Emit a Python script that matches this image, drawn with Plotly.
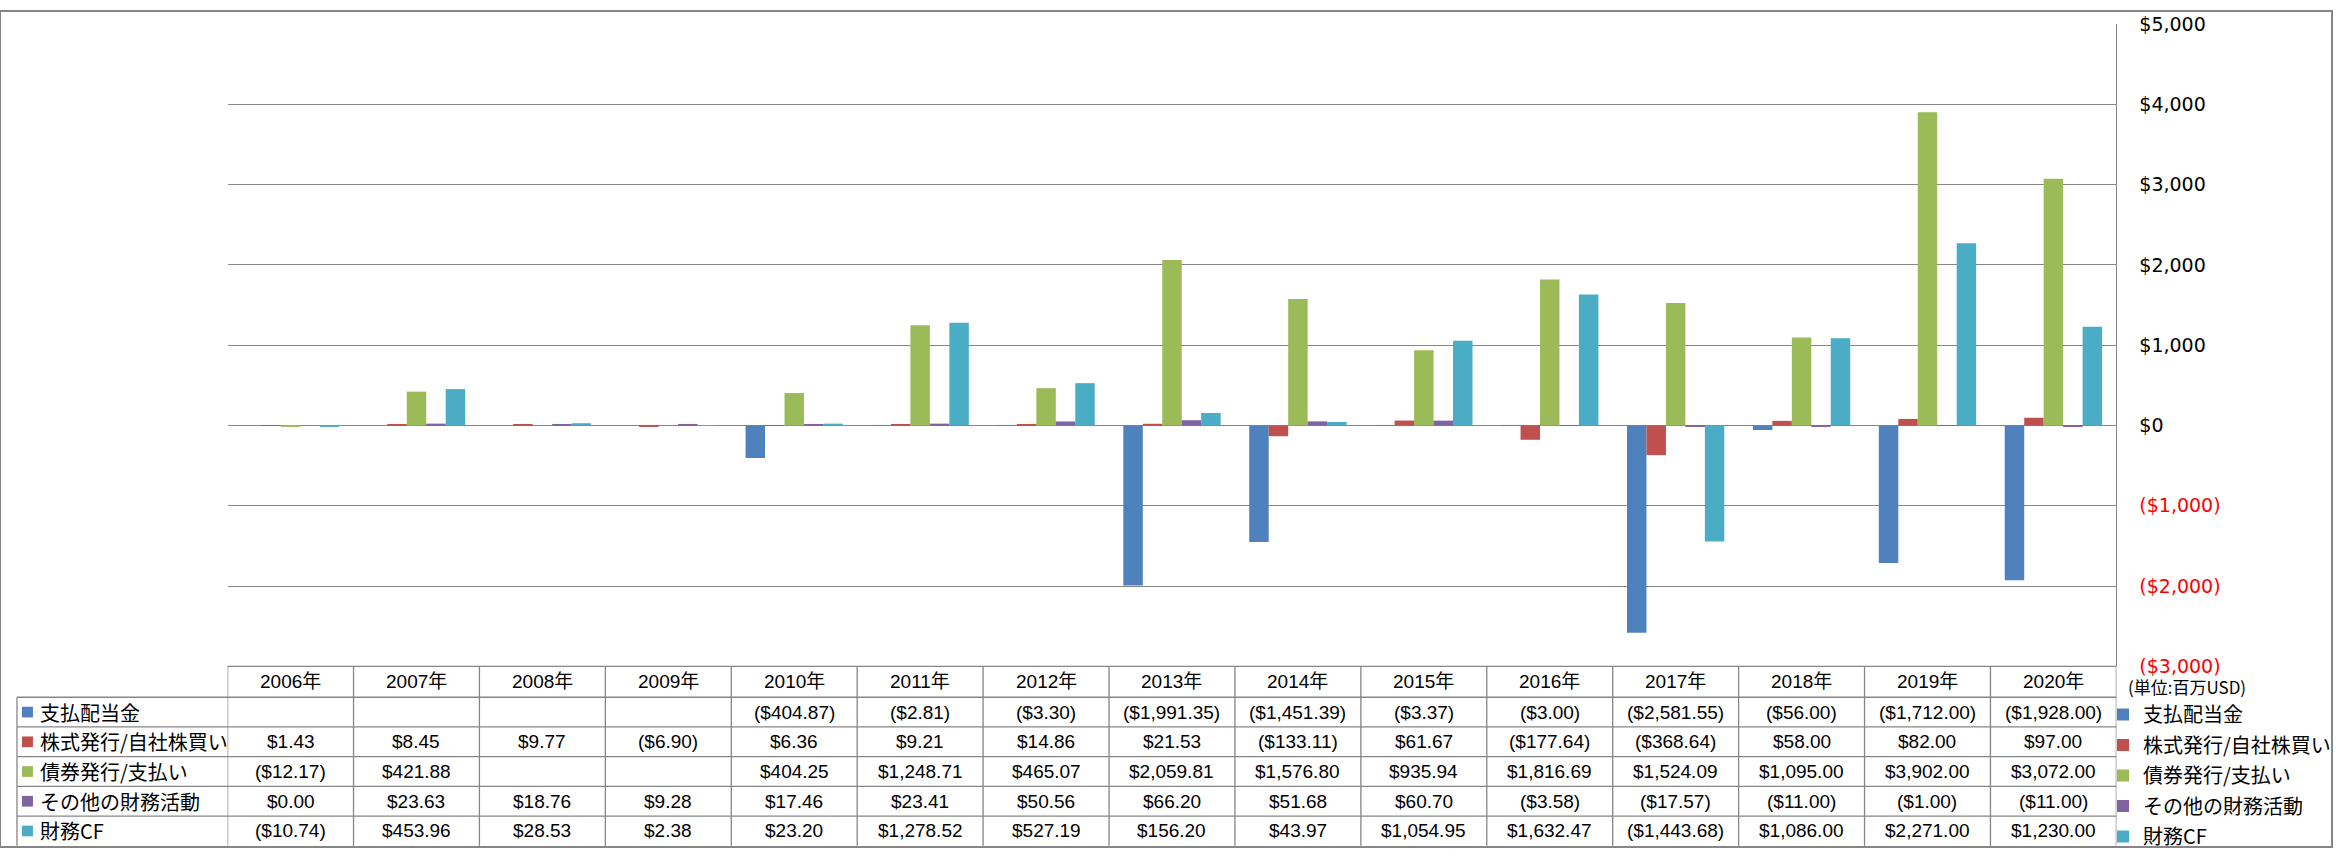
import plotly.graph_objects as go

# ---------------- data ----------------
years = ["2006年", "2007年", "2008年", "2009年", "2010年", "2011年", "2012年", "2013年",
         "2014年", "2015年", "2016年", "2017年", "2018年", "2019年", "2020年"]

series_names = ["支払配当金", "株式発行/自社株買い", "債券発行/支払い", "その他の財務活動", "財務CF"]

dividends = [None, None, None, None, -404.87, -2.81, -3.30, -1991.35, -1451.39, -3.37,
             -3.00, -2581.55, -56.00, -1712.00, -1928.00]
stock_issue = [1.43, 8.45, 9.77, -6.90, 6.36, 9.21, 14.86, 21.53, -133.11, 61.67,
               -177.64, -368.64, 58.00, 82.00, 97.00]
debt_issue = [-12.17, 421.88, None, None, 404.25, 1248.71, 465.07, 2059.81, 1576.80, 935.94,
              1816.69, 1524.09, 1095.00, 3902.00, 3072.00]
other_fin = [0.00, 23.63, 18.76, 9.28, 17.46, 23.41, 50.56, 66.20, 51.68, 60.70,
             -3.58, -17.57, -11.00, -1.00, -11.00]
fin_cf = [-10.74, 453.96, 28.53, 2.38, 23.20, 1278.52, 527.19, 156.20, 43.97, 1054.95,
          1632.47, -1443.68, 1086.00, 2271.00, 1230.00]

series_values = [dividends, stock_issue, debt_issue, other_fin, fin_cf]

y_ticks = [-3000, -2000, -1000, 0, 1000, 2000, 3000, 4000, 5000]
unit_label = "(単位:百万USD)"

# ---------------- style ----------------
colors = ["#4F81BD", "#C0504D", "#9BBB59", "#8064A2", "#4BACC6"]
GRID = "#868686"
W, H = 2336, 858


def px(x):
    return x / W


def py(y):
    return 1 - y / H


def money(v):
    if v is None:
        return ""
    s = f"${abs(v):,.2f}"
    return f"({s})" if v < 0 else s


def tick_money(v):
    s = f"${abs(v):,.0f}"
    if v < 0:
        return f'<span style="color:#FF0000">({s})</span>'
    return s


PLOT_L, PLOT_R = 228, 2120
PLOT_T, TABLE_T = 13.3, 672.7
HEAD_B = 704.3
ROW_H = 30.5
N = len(years)

fig = go.Figure()
for name, vals, col in zip(series_names, series_values, colors):
    fig.add_trace(go.Bar(
        x=list(range(N)), y=vals, name=name, marker=dict(color=col, line=dict(width=0)),
        legendgroup=name,
    ))

shapes = []
annotations = []

# outer border
shapes.append(dict(type="rect", xref="paper", yref="paper", x0=0, x1=1, y0=0, y1=1,
                   line=dict(color=GRID, width=2)))

row_bounds = [HEAD_B + ROW_H * k for k in range(6)]
table_bottom = row_bounds[-1]

# header top line
shapes.append(dict(type="line", xref="paper", yref="paper", x0=px(PLOT_L), x1=px(PLOT_R),
                   y0=py(TABLE_T), y1=py(TABLE_T), line=dict(color=GRID, width=1.3)))
# row lines
for yb in row_bounds[:-1]:
    shapes.append(dict(type="line", xref="paper", yref="paper", x0=px(17), x1=px(PLOT_R),
                       y0=py(yb), y1=py(yb), line=dict(color=GRID, width=1.3)))
# vertical lines between columns
for i in range(N + 1):
    shapes.append(dict(type="line", xref="x", yref="paper", x0=i - 0.5, x1=i - 0.5,
                       y0=py(TABLE_T), y1=py(table_bottom), line=dict(color=GRID, width=1.3)))
shapes.append(dict(type="line", xref="paper", yref="paper", x0=px(17), x1=px(17),
                   y0=py(HEAD_B), y1=py(table_bottom), line=dict(color=GRID, width=1.3)))

NUM_FONT = "Liberation Sans, Noto Sans CJK JP"
CJK_FONT = "Noto Sans CJK JP"

# header labels
for i, yl in enumerate(years):
    annotations.append(dict(xref="x", yref="paper", x=i, y=py((TABLE_T + HEAD_B) / 2),
                            text=yl, showarrow=False, xanchor="center", yanchor="middle",
                            font=dict(family=NUM_FONT, size=19, color="#000")))

# rows
for r, (name, vals, col) in enumerate(zip(series_names, series_values, colors)):
    yc = (row_bounds[r] + row_bounds[r + 1]) / 2
    shapes.append(dict(type="rect", xref="paper", yref="paper", x0=px(22), x1=px(33),
                       y0=py(yc - 5.5), y1=py(yc + 5.5), fillcolor=col, line=dict(width=0)))
    annotations.append(dict(xref="paper", yref="paper", x=px(38), y=py(yc), text=name,
                            showarrow=False, xanchor="left", yanchor="middle",
                            font=dict(family=CJK_FONT, size=20, color="#000")))
    for i, v in enumerate(vals):
        t = money(v)
        if t:
            annotations.append(dict(xref="x", yref="paper", x=i, y=py(yc), text=t,
                                    showarrow=False, xanchor="center", yanchor="middle",
                                    font=dict(family=NUM_FONT, size=19, color="#000")))

# unit label
annotations.append(dict(xref="paper", yref="paper", x=px(2130), y=py(693), text=unit_label,
                        showarrow=False, xanchor="left", yanchor="middle",
                        font=dict(family=CJK_FONT, size=17, color="#000")))

fig.update_layout(
    width=W, height=H,
    margin=dict(l=0, r=0, t=0, b=0),
    paper_bgcolor="white", plot_bgcolor="white",
    barmode="group", bargap=0.227, bargroupgap=0,
    showlegend=True,
    legend=dict(x=px(2107), xanchor="left", y=py(702), yanchor="top",
                font=dict(family=CJK_FONT, size=20, color="#000"),
                traceorder="grouped", tracegroupgap=1.5, bgcolor="rgba(0,0,0,0)",
                borderwidth=0),
    xaxis=dict(domain=[px(PLOT_L), px(PLOT_R)], range=[-0.5, N - 0.5],
               showticklabels=False, showgrid=False, zeroline=False, showline=False,
               ticks=""),
    yaxis=dict(domain=[py(TABLE_T), py(PLOT_T)], range=[-3000, 5000], side="right",
               tickvals=y_ticks, ticktext=[tick_money(v) for v in y_ticks],
               showgrid=True, gridcolor=GRID, gridwidth=1.3, zeroline=False,
               showline=True, linecolor=GRID, linewidth=1.3,
               ticks="outside", ticklen=18, tickcolor="rgba(0,0,0,0)",
               tickfont=dict(family="DejaVu Sans", size=19, color="#000")),
    shapes=shapes,
    annotations=annotations,
    font=dict(family=CJK_FONT),
)

fig.write_html("out.html")
